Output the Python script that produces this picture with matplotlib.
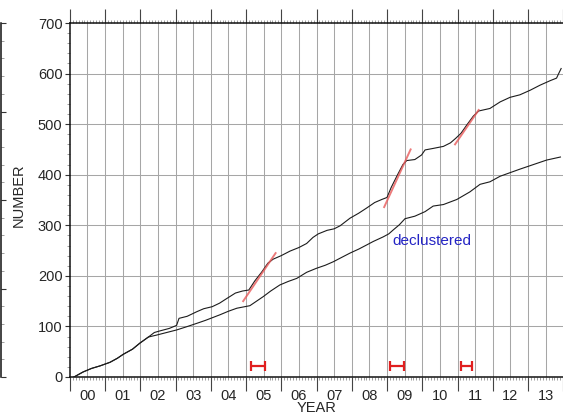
import numpy as np
import matplotlib
matplotlib.use("Agg")
import matplotlib.pyplot as plt
from matplotlib.ticker import MultipleLocator, NullLocator

plt.rcParams['font.family'] = ['Liberation Sans', 'DejaVu Sans']

# Cumulative number of events, all events
total_year = [2000.12, 2000.38, 2000.62, 2000.86, 2001.14, 2001.35, 2001.52, 2001.78,
              2001.99, 2002.23, 2002.40, 2002.55, 2002.82, 2003.03, 2003.10, 2003.33,
              2003.60, 2003.80, 2004.04, 2004.25, 2004.45, 2004.70, 2004.90, 2005.08,
              2005.25, 2005.44, 2005.62, 2005.77, 2006.00, 2006.25, 2006.50, 2006.72,
              2006.90, 2007.05, 2007.30, 2007.50, 2007.67, 2007.95, 2008.20, 2008.42,
              2008.65, 2008.85, 2009.00, 2009.12, 2009.30, 2009.45, 2009.56, 2009.79,
              2009.98, 2010.08, 2010.31, 2010.60, 2010.80, 2010.95, 2011.10, 2011.26,
              2011.45, 2011.60, 2011.92, 2012.21, 2012.49, 2012.77, 2013.06, 2013.34,
              2013.63, 2013.81, 2013.87, 2013.94]
total_count = [0, 10, 17, 22, 29, 37, 45, 55,
               67, 79, 88, 91, 96, 102, 116, 120,
               129, 135, 139, 146, 155, 166, 170, 172,
               190, 207, 225, 233, 240, 249, 256, 264,
               276, 283, 290, 293, 299, 314, 324, 334,
               345, 351, 355, 375, 400, 420, 428, 430,
               439, 449, 452, 456, 463, 472, 482, 498,
               516, 526, 531, 544, 553, 558, 567, 577,
               586, 591, 600, 610]

# Cumulative number of events after declustering
decl_year = [2000.12, 2000.38, 2000.62, 2000.86, 2001.14, 2001.35, 2001.52, 2001.78,
             2001.99, 2002.23, 2002.47, 2002.75, 2003.03, 2003.30, 2003.60, 2003.85,
             2004.26, 2004.50, 2004.74, 2005.11, 2005.30, 2005.49, 2005.70, 2005.96,
             2006.20, 2006.44, 2006.72, 2007.00, 2007.25, 2007.48, 2007.70, 2007.95,
             2008.20, 2008.42, 2008.61, 2008.89, 2009.05, 2009.18, 2009.35, 2009.51,
             2009.79, 2010.08, 2010.31, 2010.60, 2010.98, 2011.35, 2011.64, 2011.92,
             2012.21, 2012.49, 2012.77, 2013.15, 2013.53, 2013.92]
decl_count = [0, 10, 17, 22, 29, 37, 45, 55,
              67, 79, 83, 88, 93, 99, 106, 112,
              123, 130, 136, 141, 150, 159, 170, 182,
              189, 195, 207, 215, 221, 228, 236, 245,
              253, 261, 268, 277, 283, 291, 301, 313,
              318, 327, 338, 341, 351, 366, 381, 386,
              397, 404, 411, 420, 429, 435]

# Linear rate fits across the swarm episodes
fit_x0 = [2004.92, 2008.92, 2010.93]
fit_y0 = [150, 336, 460]
fit_x1 = [2005.84, 2009.67, 2011.60]
fit_y1 = [245, 450, 528]

# Swarm periods
swarm_start = [2005.15, 2009.09, 2011.10]
swarm_end = [2005.54, 2009.49, 2011.40]
swarm_level = 22

year_labels = ['00', '01', '02', '03', '04', '05', '06', '07',
               '08', '09', '10', '11', '12', '13']

fig = plt.figure(figsize=(5.63, 4.17), dpi=100)
ax = fig.add_axes([69.75 / 563, 40 / 417, 493.5 / 563, 354 / 417])
ax.set_xlim(2000.0, 2014.0)
ax.set_ylim(0, 700)
ax.set_axisbelow(True)

grid_kw = dict(color='#a6a6a6', lw=0.75, zorder=0)
for yv in range(100, 700, 100):
    ax.axhline(yv, **grid_kw)
for xv in np.arange(2000.5, 2014.0, 0.5):
    ax.axvline(xv, **grid_kw)

ax.plot(total_year, total_count, color='#1c1c1c', lw=0.8, zorder=3)
ax.plot(decl_year, decl_count, color='#1c1c1c', lw=0.8, zorder=3)

for x0, y0, x1, y1 in zip(fit_x0, fit_y0, fit_x1, fit_y1):
    ax.plot([x0, x1], [y0, y1], color='#e85a5a', lw=1.4, alpha=0.8, zorder=4)

centers = [(a + b) / 2 for a, b in zip(swarm_start, swarm_end)]
halves = [(b - a) / 2 for a, b in zip(swarm_start, swarm_end)]
ax.errorbar(centers, [swarm_level] * len(centers), xerr=halves, fmt='none',
            ecolor='#e01f1f', elinewidth=1.6, capsize=3.8, capthick=1.6, zorder=5)

ax.text(2010.28, 269, 'declustered', ha='center', va='center',
        color='#2424c4', fontsize=11)

# spines
for s in ['top', 'left', 'bottom']:
    ax.spines[s].set_linewidth(1.1)
    ax.spines[s].set_color('#111111')
ax.spines['right'].set_visible(False)

# x ticks: long marks at year boundaries, monthly minor marks
ax.xaxis.set_major_locator(MultipleLocator(1))
ax.xaxis.set_minor_locator(MultipleLocator(1 / 12))
ax.tick_params(axis='x', which='major', direction='out', length=10, width=0.8,
               top=True, bottom=True, labelbottom=False, labeltop=False,
               color='#444444')
ax.tick_params(axis='x', which='minor', direction='out', length=2.2, width=0.5,
               top=True, bottom=True, color='#777777')

# y ticks
ax.yaxis.set_major_locator(MultipleLocator(100))
ax.yaxis.set_minor_locator(MultipleLocator(20))
ax.tick_params(axis='y', which='major', direction='out', length=3.8, width=0.8,
               right=False, labelsize=10.5, pad=1.5, labelcolor='#262626',
               color='#333333')
ax.tick_params(axis='y', which='minor', direction='out', length=2.2, width=0.5,
               right=False, color='#777777')

# year labels centred in each year
sec = ax.secondary_xaxis('bottom')
sec.set_xticks([2000.5 + i for i in range(len(year_labels))], labels=year_labels)
sec.xaxis.set_minor_locator(NullLocator())
sec.tick_params(length=0, pad=8.5, labelsize=10.5, labelcolor='#262626')
sec.spines['bottom'].set_visible(False)

ax.set_xlabel('YEAR', fontsize=10.5, color='#262626')
ax.xaxis.set_label_coords(0.5, -0.067)
ax.set_ylabel('NUMBER', fontsize=10.5, color='#262626')
ax.yaxis.set_label_coords(-0.089, 0.514)

# additional scale bar on the far left
ax2 = ax.twinx()
ax2.set_ylim(0, 4)
for s in ['top', 'right', 'bottom']:
    ax2.spines[s].set_visible(False)
ax2.spines['left'].set_visible(True)
ax2.spines['left'].set_position(('axes', (1.5 - 69.75) / 493.5))
ax2.spines['left'].set_linewidth(1.1)
ax2.spines['left'].set_color('#111111')
ax2.yaxis.set_ticks_position('left')
ax2.yaxis.set_major_locator(MultipleLocator(1))
ax2.yaxis.set_minor_locator(MultipleLocator(0.2))
ax2.tick_params(axis='y', which='major', direction='in', length=3.8, width=0.8,
                labelleft=False, labelright=False, color='#333333')
ax2.tick_params(axis='y', which='minor', direction='in', length=2.0, width=0.5,
                labelleft=False, labelright=False, color='#777777')

fig.savefig('out.png', dpi=100)
